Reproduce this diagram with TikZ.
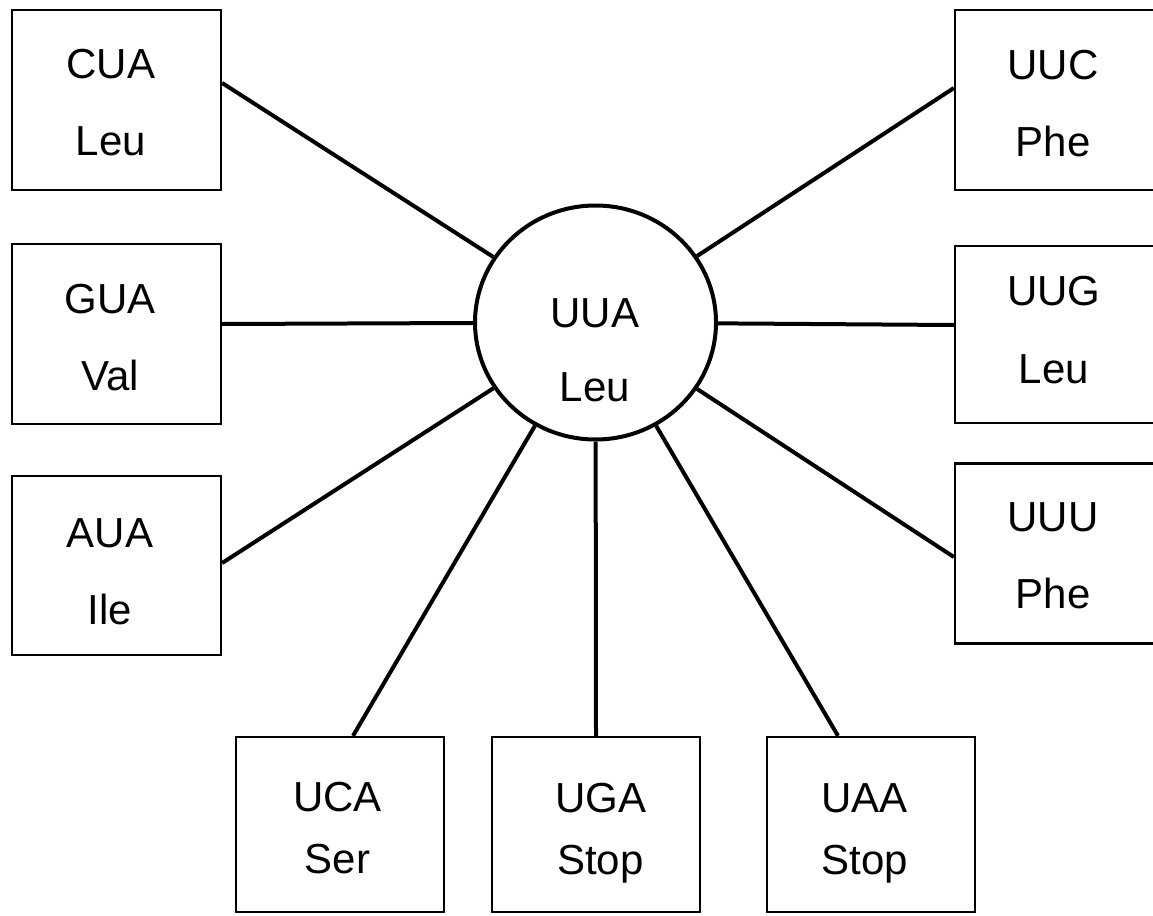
\documentclass[tikz,border=0pt]{standalone}
\usepackage{fontspec}
\setmainfont{Liberation Sans}
\usetikzlibrary{shapes.geometric,calc}
\tikzset{
  codonbox/.style={draw, line width=2.3pt, inner sep=0pt, minimum width=209pt, minimum height=180pt},
  lbl/.style={align=center, inner sep=0pt, font=\fontsize{42}{77}\selectfont},
  lblb/.style={align=center, inner sep=0pt, font=\fontsize{42}{62}\selectfont},
  hub/.style={draw, ellipse, line width=4pt, inner sep=0pt, minimum width=241pt, minimum height=234pt},
  link/.style={line width=4pt}
}
\begin{document}
\begin{tikzpicture}[x=1pt,y=-1pt]
\useasboundingbox (0,0) rectangle (1153,915);
% hub
\node[hub] (uua) at (595.5,322.5) {};
\node[lbl, font=\fontsize{42}{74}\selectfont] (uuat) at (595,350) {UUA\\Leu};
% left boxes
\node[codonbox] (cua) at (116.5,100) {};
\node[lbl] (cuat) at (111,102.5) {CUA\\Leu};
\node[codonbox] (gua) at (116.5,334) {};
\node[lbl] (guat) at (110,337.5) {GUA\\Val};
\node[codonbox, minimum height=179pt] (aua) at (116.5,565.5) {};
\node[lbl] (auat) at (110,571.5) {AUA\\Ile};
% right boxes (cut at the right edge)
\node[codonbox] (uuc) at (1059.5,100) {};
\node[lbl] (uuct) at (1053,103.5) {UUC\\Phe};
\node[codonbox, minimum height=177pt] (uug) at (1059.5,334.5) {};
\node[lbl, font=\fontsize{42}{78}\selectfont] (uugt) at (1054,330) {UUG\\Leu};
\node[codonbox] (uuu) at (1059.5,553.5) {};
\node[lbl] (uuut) at (1053,556) {UUU\\Phe};
% bottom boxes
\node[codonbox, minimum width=208pt, minimum height=175pt] (uca) at (340,824.5) {};
\node[lblb] (ucat) at (337.5,828) {UCA\\Ser};
\node[codonbox, minimum width=208pt, minimum height=175pt] (uga) at (596,824.5) {};
\node[lblb] (ugat) at (600.5,833) {UGA\\Stop};
\node[codonbox, minimum width=208pt, minimum height=175pt] (uaa) at (871,824.5) {};
\node[lblb] (uaat) at (864.5,833) {UAA\\Stop};
% attachment points
\coordinate (pcua) at ([yshift=17pt]cua.east);
\coordinate (pgua) at ([yshift=10pt]gua.east);
\coordinate (paua) at ([yshift=2.5pt]aua.east);
\coordinate (puuc) at ([yshift=12pt]uuc.west);
\coordinate (puug) at ([yshift=9.5pt]uug.west);
\coordinate (puuu) at ([yshift=-3.5pt]uuu.west);
\coordinate (puca) at ([xshift=13pt]uca.north);
\coordinate (puga) at (uga.north);
\coordinate (puaa) at ([xshift=-33pt]uaa.north);
% connectors
\foreach \p in {pcua,pgua,paua,puuc,puug,puuu,puca,puga,puaa}
  \draw[link] (\p) -- (uua);
\end{tikzpicture}
\end{document}
